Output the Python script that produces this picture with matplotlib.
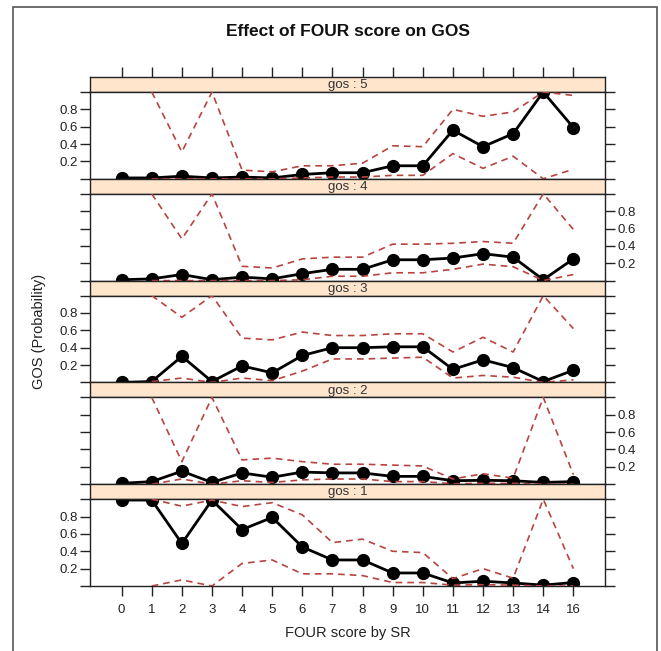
import numpy as np
import matplotlib
matplotlib.use("Agg")
import matplotlib.pyplot as plt
from matplotlib.patches import Rectangle

plt.rcParams['font.family'] = ['Liberation Sans', 'DejaVu Sans']

# x categories (FOUR score by SR)
four_scores = ['0', '1', '2', '3', '4', '5', '6', '7', '8', '9', '10',
               '11', '12', '13', '14', '16']
nan = np.nan

# predicted probabilities with lower / upper bounds, one set per GOS level
gos5_prob = [0.01, 0.01, 0.03, 0.01, 0.02, 0.01, 0.05, 0.07, 0.07, 0.15, 0.15,
             0.56, 0.37, 0.52, 1.00, 0.59]
gos5_upper = [nan, 1.00, 0.31, 1.00, 0.10, 0.08, 0.15, 0.15, 0.18, 0.38, 0.37,
              0.80, 0.72, 0.77, 1.00, 0.96]
gos5_lower = [nan, 0.00, 0.00, 0.00, 0.00, 0.00, 0.01, 0.02, 0.02, 0.04, 0.04,
              0.29, 0.12, 0.26, 0.00, 0.11]

gos4_prob = [0.01, 0.02, 0.07, 0.01, 0.04, 0.02, 0.08, 0.13, 0.13, 0.24, 0.24,
             0.26, 0.31, 0.27, 0.01, 0.25]
gos4_upper = [nan, 1.00, 0.48, 1.00, 0.165, 0.145, 0.25, 0.27, 0.27, 0.42, 0.42,
              0.43, 0.45, 0.43, 1.00, 0.59]
gos4_lower = [nan, 0.00, 0.00, 0.00, 0.00, 0.00, 0.01, 0.05, 0.05, 0.09, 0.09,
              0.13, 0.19, 0.16, 0.00, 0.07]

gos3_prob = [0.00, 0.01, 0.30, 0.01, 0.19, 0.11, 0.31, 0.40, 0.40, 0.41, 0.41,
             0.15, 0.26, 0.17, 0.01, 0.14]
gos3_upper = [nan, 1.00, 0.75, 1.00, 0.51, 0.49, 0.58, 0.54, 0.54, 0.56, 0.56,
              0.35, 0.52, 0.35, 1.00, 0.62]
gos3_lower = [nan, 0.01, 0.05, 0.00, 0.05, 0.02, 0.13, 0.27, 0.27, 0.28, 0.29,
              0.05, 0.08, 0.06, 0.00, 0.03]

gos2_prob = [0.01, 0.03, 0.15, 0.02, 0.13, 0.08, 0.14, 0.13, 0.13, 0.09, 0.09,
             0.04, 0.045, 0.04, 0.02, 0.03]
gos2_upper = [nan, 1.00, 0.26, 1.00, 0.28, 0.30, 0.26, 0.23, 0.23, 0.22, 0.21,
              0.06, 0.12, 0.07, 1.00, 0.11]
gos2_lower = [nan, 0.00, 0.06, 0.00, 0.04, 0.02, 0.05, 0.06, 0.06, 0.03, 0.03,
              0.005, 0.01, 0.01, 0.00, 0.00]

gos1_prob = [0.99, 0.99, 0.49, 0.99, 0.65, 0.79, 0.45, 0.30, 0.30, 0.15, 0.15,
             0.035, 0.055, 0.035, 0.01, 0.04]
gos1_upper = [nan, 1.00, 0.92, 0.99, 0.915, 0.96, 0.82, 0.50, 0.54, 0.40, 0.385,
              0.085, 0.20, 0.09, 1.00, 0.20]
gos1_lower = [nan, 0.00, 0.07, 0.00, 0.26, 0.30, 0.14, 0.14, 0.12, 0.04, 0.04,
              0.01, 0.015, 0.01, 0.00, 0.00]

panels = [
    ('gos : 5', gos5_prob, gos5_upper, gos5_lower),
    ('gos : 4', gos4_prob, gos4_upper, gos4_lower),
    ('gos : 3', gos3_prob, gos3_upper, gos3_lower),
    ('gos : 2', gos2_prob, gos2_upper, gos2_lower),
    ('gos : 1', gos1_prob, gos1_upper, gos1_lower),
]

W, H = 661, 651
fig = plt.figure(figsize=(W / 100, H / 100), dpi=100)

frame_col = '#222222'
ci_col = '#b8433f'
strip_col = '#ffe5cc'

x = np.arange(len(four_scores))
xlim = (-1.05, 16.05)

left_px, right_px = 90, 605
top_px, step_px, strip_px = 77, 101.8, 15

def fx(px):
    return px / W

def fy(py):
    return 1 - py / H

for i, (name, prob, upper, lower) in enumerate(panels):
    s_top = top_px + i * step_px
    s_bot = s_top + strip_px
    p_bot = s_top + step_px

    # strip
    sax = fig.add_axes([fx(left_px), fy(s_bot), fx(right_px - left_px), (s_bot - s_top) / H])
    sax.set_facecolor(strip_col)
    sax.set_xlim(xlim)
    sax.set_ylim(0, 1)
    sax.set_yticks([])
    for sp in sax.spines.values():
        sp.set_color(frame_col)
        sp.set_linewidth(1)
    if i == 0:
        sax.set_xticks(x)
        sax.tick_params(axis='x', top=True, bottom=False, labeltop=False,
                        labelbottom=False, direction='out', length=7,
                        width=1, color=frame_col)
    else:
        sax.set_xticks([])
    sax.text(0.5, 0.45, name, transform=sax.transAxes, ha='center', va='center',
             fontsize=9.5, color='#333333')

    # panel
    ax = fig.add_axes([fx(left_px), fy(p_bot), fx(right_px - left_px), (p_bot - s_bot) / H])
    ax.plot(x, prob, '-o', color='black', lw=2, markersize=8.5, zorder=2)
    ax.plot(x, upper, '--', color=ci_col, lw=1.2, dashes=(4, 3), zorder=3)
    ax.plot(x, lower, '--', color=ci_col, lw=1.2, dashes=(4, 3), zorder=3)
    ax.set_xlim(xlim)
    ax.set_ylim(0, 1)
    for sp in ax.spines.values():
        sp.set_color(frame_col)
        sp.set_linewidth(1)
    ax.set_yticks([0, 0.2, 0.4, 0.6, 0.8, 1.0])
    ax.set_yticklabels(['', '0.2', '0.4', '0.6', '0.8', ''])
    lab_left = (i % 2 == 0)
    ax.tick_params(axis='y', left=True, right=True, labelleft=lab_left,
                   labelright=not lab_left, direction='out', length=7, width=1,
                   color=frame_col, labelsize=9.5, labelcolor='#222222', pad=2)
    if i == len(panels) - 1:
        ax.set_xticks(x)
        ax.set_xticklabels(four_scores)
        ax.tick_params(axis='x', bottom=True, top=False, direction='out', length=7,
                       width=1, color=frame_col, labelsize=9.5, labelcolor='#222222',
                       pad=6)
    else:
        ax.set_xticks([])

fig.text(fx(347.5), fy(32), 'Effect of FOUR score on GOS', ha='center', va='center',
         fontsize=12.5, fontweight='bold', color='#111111')
fig.text(fx(347.5), fy(633), 'FOUR score by SR', ha='center', va='center',
         fontsize=10.5, color='#222222')
fig.text(fx(38.5), fy(331.5), 'GOS (Probability)', ha='center', va='center',
         rotation=90, fontsize=10.5, color='#222222')

# outer border around the figure
fig.patches.append(Rectangle((fx(13), -0.1), fx(657 - 13), fy(7) + 0.1,
                             transform=fig.transFigure, fill=False,
                             edgecolor='#555555', linewidth=1.2))

fig.savefig('out.png', dpi=100)
